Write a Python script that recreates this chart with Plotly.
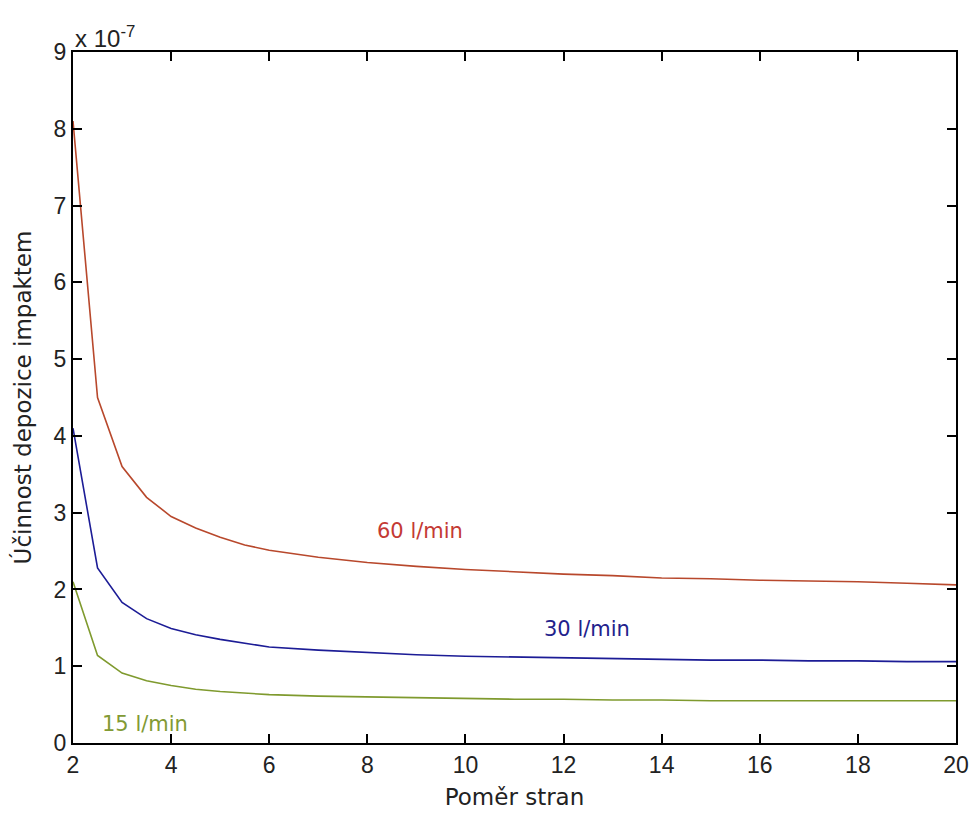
import plotly.graph_objects as go

# Aspect ratio (Poměr stran)
x_vals = [2, 2.5, 3, 3.5, 4, 4.5, 5, 5.5, 6, 7, 8, 9, 10, 11, 12, 13, 14, 15, 16, 17, 18, 19, 20]
# Impaction deposition efficiency, units of 1e-7
y_60 = [8.1, 4.5, 3.6, 3.2, 2.95, 2.8, 2.68, 2.58, 2.51, 2.42, 2.35, 2.3, 2.26, 2.23, 2.2, 2.18, 2.15, 2.14, 2.12, 2.11, 2.1, 2.08, 2.06]
y_30 = [4.1, 2.28, 1.83, 1.62, 1.49, 1.41, 1.35, 1.3, 1.25, 1.21, 1.18, 1.15, 1.13, 1.12, 1.11, 1.1, 1.09, 1.08, 1.08, 1.07, 1.07, 1.06, 1.06]
y_15 = [2.1, 1.14, 0.91, 0.81, 0.75, 0.7, 0.67, 0.65, 0.63, 0.61, 0.6, 0.59, 0.58, 0.57, 0.57, 0.56, 0.56, 0.55, 0.55, 0.55, 0.55, 0.55, 0.55]

series_names = ["60 l/min", "30 l/min", "15 l/min"]
line_colors = ["#b8482c", "#1c1c96", "#7f9a2e"]
text_colors = ["#c43a34", "#22228c", "#829a34"]
label_pos = [(9.08, 2.76), (12.47, 1.48), (3.47, 0.25)]

x_ticks = list(range(2, 21, 2))
y_ticks = list(range(0, 10))

fig = go.Figure()
for ys, name, col in zip([y_60, y_30, y_15], series_names, line_colors):
    fig.add_trace(go.Scatter(x=x_vals, y=ys, mode="lines", name=name,
                             line=dict(color=col, width=1.6), showlegend=False))

for name, col, (lx, ly) in zip(series_names, text_colors, label_pos):
    fig.add_annotation(x=lx, y=ly, text=name, showarrow=False,
                       font=dict(family="DejaVu Sans", size=21, color=col))

fig.add_annotation(xref="paper", yref="paper", x=0, y=1.0, xanchor="left", yanchor="bottom",
                   text="x 10<sup>-7</sup>", showarrow=False, yshift=-2,
                   font=dict(family="Liberation Sans", size=24, color="#222"))

axis_common = dict(showline=True, linecolor="black", linewidth=2, mirror="allticks",
                   ticks="inside", ticklen=9, tickwidth=1.5, tickcolor="black",
                   showgrid=False, zeroline=False, automargin=False,
                   ticklabeloverflow="allow",
                   tickfont=dict(family="Liberation Sans", size=23, color="#222"))

fig.update_layout(
    width=973, height=815,
    margin=dict(l=73, r=17, t=52, b=72),
    paper_bgcolor="white", plot_bgcolor="white",
    xaxis=dict(range=[2, 20], tickvals=x_ticks,
               title=dict(text="Poměr stran", font=dict(family="DejaVu Sans", size=23, color="#222"), standoff=12),
               **axis_common),
    yaxis=dict(range=[0, 9], tickvals=y_ticks,
               title=dict(text="Účinnost depozice impaktem", font=dict(family="DejaVu Sans", size=23, color="#222"), standoff=16),
               **axis_common),
)

fig.write_html("out.html")
